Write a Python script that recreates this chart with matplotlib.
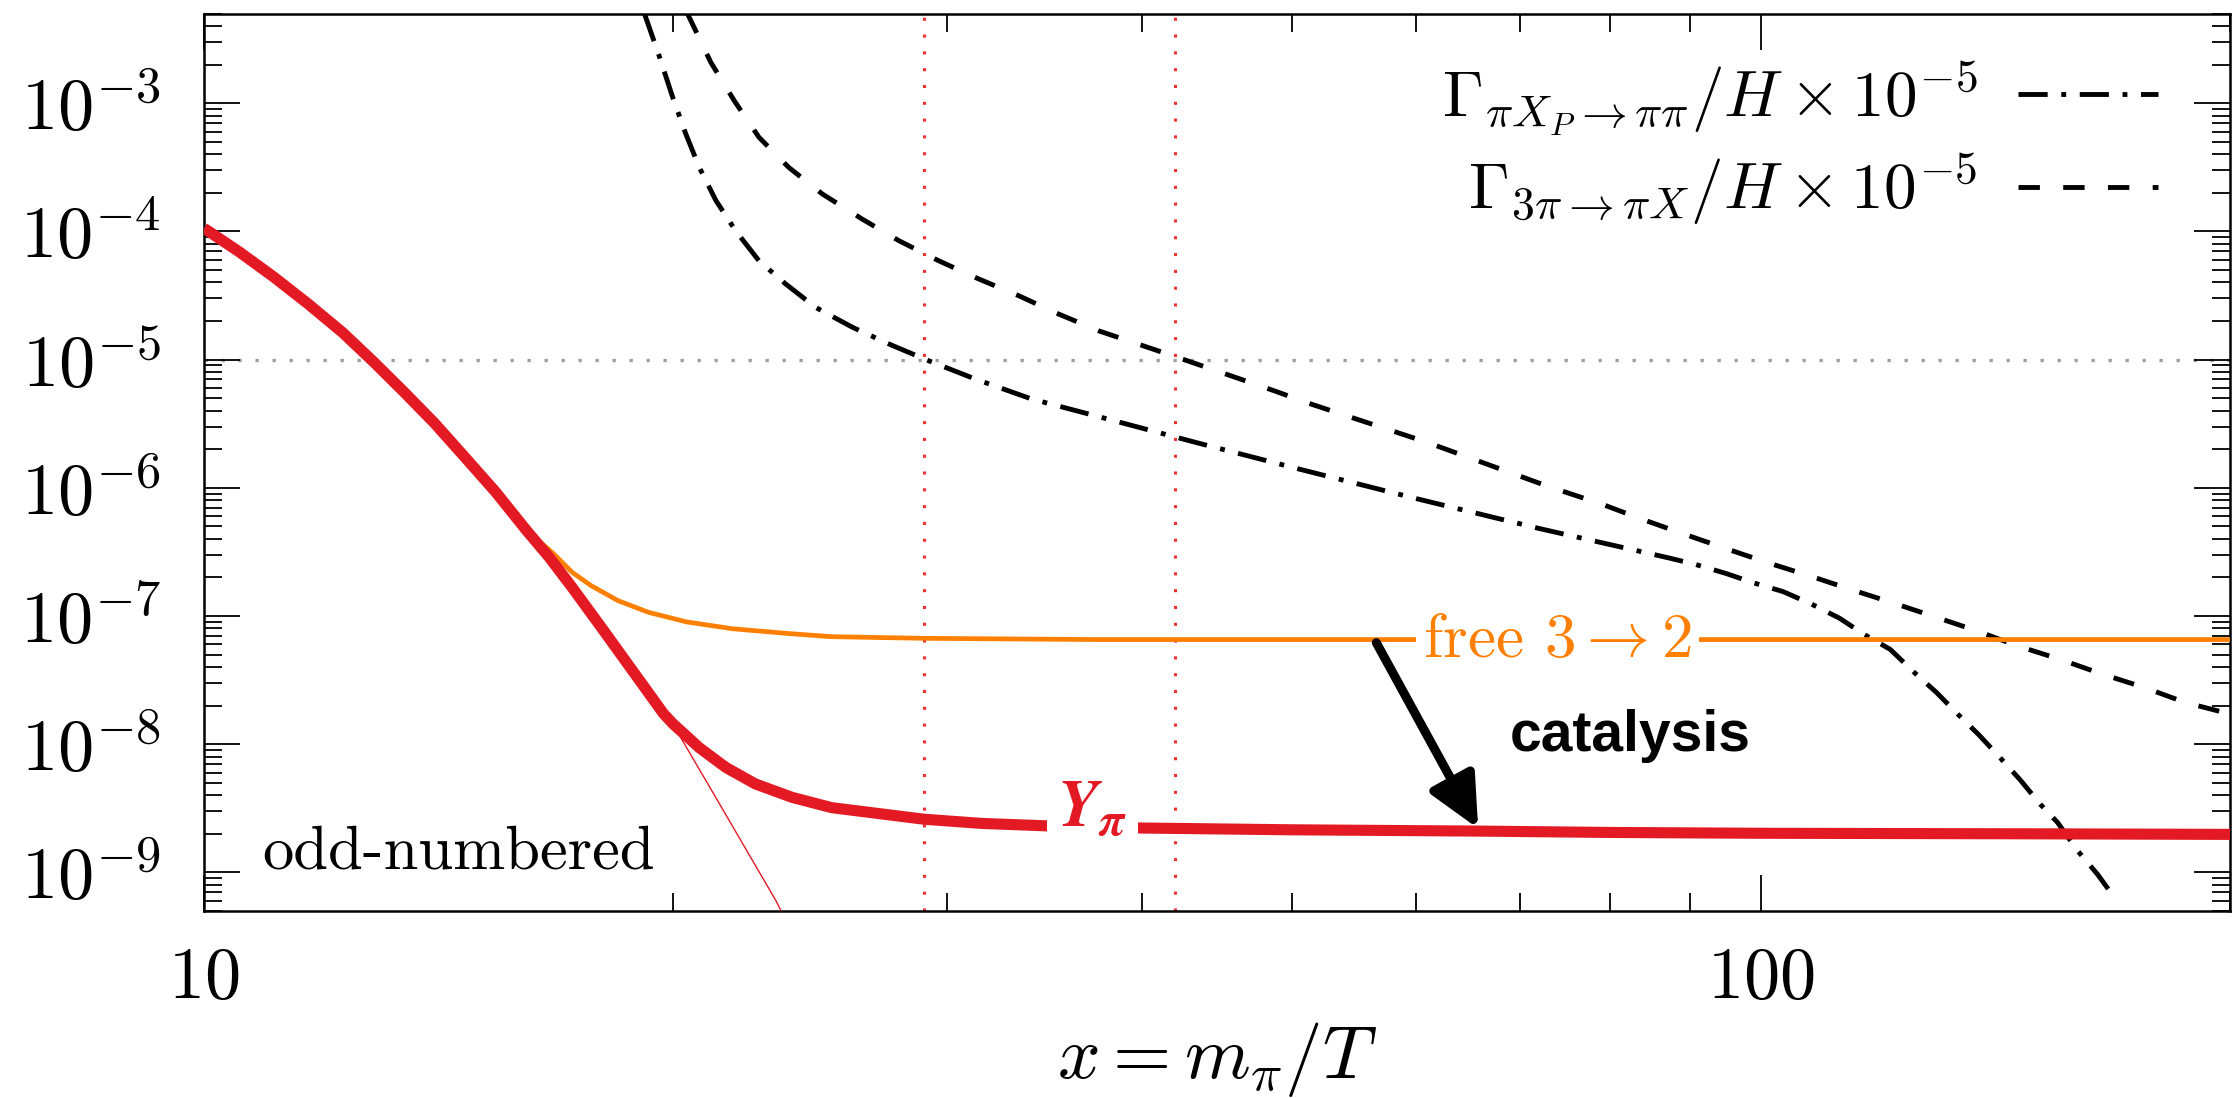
import matplotlib
matplotlib.use("Agg")
import matplotlib.pyplot as plt
from matplotlib.ticker import LogLocator, NullFormatter

plt.rcParams['mathtext.fontset'] = 'cm'
plt.rcParams['font.family'] = 'serif'
plt.rcParams['font.serif'] = ['cmr10']
plt.rcParams['axes.formatter.use_mathtext'] = True

# ---- values ----
# Y_pi with catalysis (thick red)
x_Y = [10.0, 10.54, 11.09, 11.67, 12.28, 12.84, 13.44, 14.06, 14.71, 15.39, 16.1, 16.65, 17.23,
       18.03, 18.86, 19.73, 20.0, 20.8, 21.63, 22.6, 23.86, 25.3, 27.3, 29.0, 31.6, 34.7, 40,
       50, 66, 80, 100, 150, 200]
y_Y = [1.06e-4, 6.9e-5, 4.4e-5, 2.71e-5, 1.62e-5, 9.7e-6, 5.6e-6, 3.2e-6, 1.73e-6, 9.3e-7, 4.7e-7,
       2.9e-7, 1.68e-7, 7.9e-8, 3.7e-8, 1.73e-8, 1.45e-8, 9.4e-9, 6.6e-9, 4.9e-9, 3.85e-9, 3.2e-9,
       2.85e-9, 2.6e-9, 2.41e-9, 2.31e-9, 2.22e-9, 2.15e-9, 2.1e-9, 2.05e-9, 2.02e-9, 2.0e-9, 1.98e-9]
# free 3->2 (orange)
x_free = [16.1, 16.75, 17.23, 17.72, 18.44, 19.29, 20.41, 21.84, 23.74, 25.3, 29.0, 37.5, 50, 100, 200]
y_free = [4.7e-7, 3.1e-7, 2.2e-7, 1.73e-7, 1.32e-7, 1.07e-7, 9.0e-8, 7.96e-8, 7.3e-8, 6.9e-8,
          6.7e-8, 6.55e-8, 6.55e-8, 6.55e-8, 6.55e-8]
# equilibrium (thin red)
x_eq = [19.0, 20.0, 21.41, 23.3, 23.8]
y_eq = [3.3e-8, 1.44e-8, 3.5e-9, 6.0e-10, 3.6e-10]
# Gamma_{pi X_P -> pi pi}/H x 1e-5 (dash-dot)
x_G1 = [19.18, 19.6, 20.0, 20.39, 20.8, 21.32, 21.95, 22.72, 23.63, 24.7, 26.08, 27.67, 29.2,
        31.28, 34.0, 36.98, 43.4, 50.5, 59.9, 72.1, 87.0, 90.6, 94.9, 98.8, 103.3,
        107.7, 112.3, 116.4, 121.0, 125.4, 129.6, 133.7, 138.0, 142.3, 146.7, 151.1, 155.0,
        159.7, 164.5, 169.0]
y_G1 = [5.0e-3, 2.35e-3, 1.11e-3, 5.76e-4, 3.16e-4, 1.74e-4, 1.01e-4, 5.9e-5, 3.9e-5, 2.56e-5,
        1.79e-5, 1.29e-5, 9.8e-6, 7.06e-6, 4.93e-6, 3.77e-6, 2.25e-6, 1.4e-6, 8.3e-7, 4.8e-7,
        2.86e-7, 2.54e-7, 2.15e-7, 1.82e-7, 1.55e-7, 1.24e-7, 9.6e-8, 7.2e-8,
        5.5e-8, 3.63e-8, 2.53e-8, 1.72e-8, 1.18e-8, 7.9e-9, 5.25e-9, 3.4e-9, 2.45e-9, 1.47e-9,
        9.6e-10, 6.1e-10]
# Gamma_{3pi -> pi X}/H x 1e-5 (dashed)
x_G2 = [20.44, 21.16, 21.9, 22.72, 23.74, 24.95, 26.46, 27.94, 29.64, 31.44, 33.36, 35.38, 37.53,
        42.2, 48.7, 51.2, 61.1, 72.9, 79.0, 83.8, 89.2, 94.5, 100.9, 107.4, 114.0, 121.4, 129.3,
        137.5, 146.0, 155.5, 165.6, 176.2, 187.1, 200]
y_G2 = [5.0e-3, 2.08e-3, 1.05e-3, 5.42e-4, 3.16e-4, 1.96e-4, 1.25e-4, 8.47e-5, 5.9e-5, 4.26e-5,
        3.15e-5, 2.27e-5, 1.68e-5, 1.04e-5, 5.7e-6, 4.57e-6, 2.25e-6, 1.03e-6, 7.46e-7, 5.7e-7,
        4.36e-7, 3.42e-7, 2.61e-7, 2.06e-7, 1.62e-7, 1.27e-7, 9.85e-8, 7.67e-8, 5.86e-8, 4.6e-8,
        3.52e-8, 2.77e-8, 2.12e-8, 1.72e-8]
x_marks = [29, 42]      # red dotted verticals
y_mark = 1e-5           # grey dotted horizontal

x_ticks = [10, 100]
x_ticklabels = [r'$10$', r'$100$']
y_ticks = [1e-9, 1e-8, 1e-7, 1e-6, 1e-5, 1e-4, 1e-3]
y_ticklabels = [r'$10^{-9}$', r'$10^{-8}$', r'$10^{-7}$', r'$10^{-6}$', r'$10^{-5}$', r'$10^{-4}$', r'$10^{-3}$']

red = '#e31a24'
orange = '#ff8000'

fig = plt.figure(figsize=(22.34, 10.98), dpi=100)
ax = fig.add_axes([0.0913, 0.1703, 0.9069, 0.8173])
ax.set_xscale('log')
ax.set_yscale('log')
ax.set_xlim(10, 200)
ax.set_ylim(5e-10, 5e-3)

for xm in x_marks:
    ax.axvline(xm, color='#f03030', lw=2.2, ls=(0, (1, 4.5)), zorder=1)
ax.axhline(y_mark, color='#a0a0a0', lw=2.4, ls=(0, (1, 4.1)), zorder=1)

l1, = ax.plot(x_G1, y_G1, color='black', lw=3.5, ls=(0, (6.0, 2.8, 1.0, 2.8)),
              label=r'$\Gamma_{\pi X_P\rightarrow\pi\pi}/H\times 10^{-5}$', zorder=2)
l2, = ax.plot(x_G2, y_G2, color='black', lw=3.5, ls=(0, (4.4, 4.8)),
              label=r'$\Gamma_{3\pi\rightarrow\pi X}/H\times 10^{-5}$', zorder=2)
ax.plot(x_free, y_free, color=orange, lw=3.4, zorder=3)
ax.plot(x_eq, y_eq, color=red, lw=1.0, zorder=3)
ax.plot(x_Y, y_Y, color=red, lw=8, solid_capstyle='butt', solid_joinstyle='round', zorder=4)

ax.legend(handles=[l1, l2], loc='upper right', bbox_to_anchor=(0.9645, 0.95),
          frameon=False, markerfirst=False, fontsize=47, handlelength=2.15,
          handletextpad=0.62, labelspacing=0.2, borderpad=0, borderaxespad=0)

ax.text(10.9, 1.07e-9, 'odd-numbered', fontsize=45, ha='left', va='baseline')
ax.text(74.0, 4.8e-8, r'free $3\rightarrow 2$', color=orange, fontsize=45.5,
        ha='center', va='baseline', zorder=5,
        bbox=dict(facecolor='white', edgecolor='none', pad=5))
ax.text(37.2, 2.27e-9, r'$\mathbfit{Y}_{\mathbfit{\pi}}$', color=red, fontsize=48,
        math_fontfamily='stix', ha='center', va='baseline', zorder=5,
        bbox=dict(facecolor='white', edgecolor='none', pad=7))
ax.text(82.4, 8.9e-9, 'catalysis', fontsize=41, fontweight='bold',
        family='Liberation Sans', ha='center', va='baseline')
ax.annotate('', xy=(65.8, 2.2e-9), xytext=(56.6, 6.2e-8),
            arrowprops=dict(arrowstyle='-|>,head_length=1.05,head_width=0.5',
                            color='black', lw=6.5, mutation_scale=30,
                            shrinkA=0, shrinkB=0), zorder=6)

ax.set_xticks(x_ticks)
ax.set_xticklabels(x_ticklabels)
ax.set_yticks(y_ticks)
ax.set_yticklabels(y_ticklabels)
ax.xaxis.set_minor_locator(LogLocator(base=10, subs=range(2, 10)))
ax.yaxis.set_minor_locator(LogLocator(base=10, subs=range(2, 10), numticks=20))
ax.xaxis.set_minor_formatter(NullFormatter())
ax.yaxis.set_minor_formatter(NullFormatter())
ax.tick_params(which='both', direction='in', top=True, right=True, width=1.3)
ax.tick_params(which='major', length=26)
ax.tick_params(which='minor', length=13)
ax.tick_params(axis='y', which='major', labelsize=52, pad=31)
ax.tick_params(axis='x', which='major', labelsize=52, pad=26)
for s in ax.spines.values():
    s.set_linewidth(1.8)

ax.set_xlabel(r'$x = m_\pi/T$', fontsize=54, labelpad=6)

fig.savefig('out.png', dpi=100)
